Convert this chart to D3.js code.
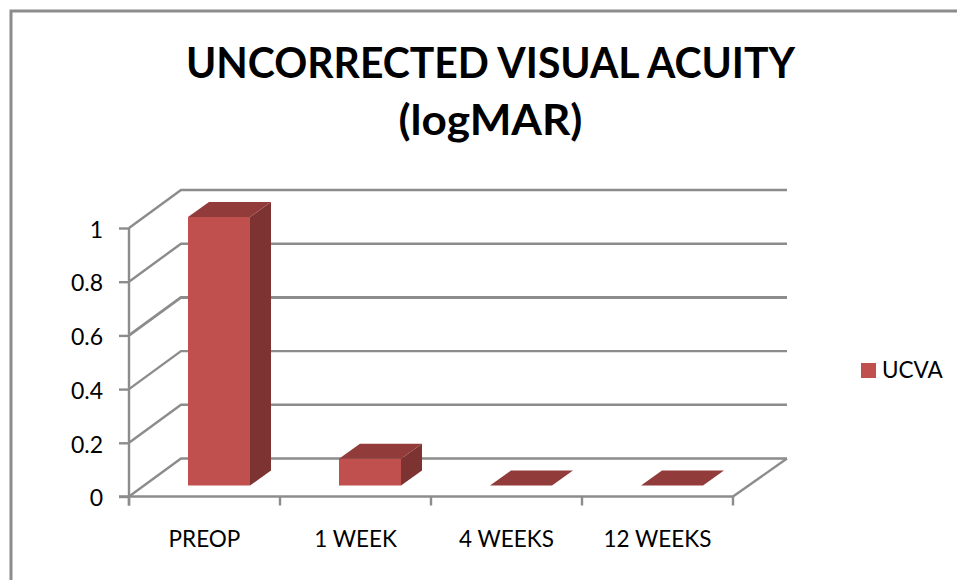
<!DOCTYPE html>
<html><head><meta charset="utf-8">
<script src="https://cdn.jsdelivr.net/npm/d3@7"></script>
<style>html,body{margin:0;padding:0;background:#fff}svg{display:block}text{font-family:Lato,"Open Sans",sans-serif;fill:#000}</style>
</head><body><div id="chart"></div>
<script>
const categories = ["PREOP","1 WEEK","4 WEEKS","12 WEEKS"];
const values = [1,0.1,0,0];
const yTicks = [0,0.2,0.4,0.6,0.8,1];
const titleLines = ["UNCORRECTED VISUAL ACUITY","(logMAR)"];
const titleWidths = [609,184];
const seriesName = "UCVA";

const W=957,H=580,grey="#8c8c8c";
const wallDx=52,wallDy=-38,barDx=21,barDy=-15,barFrontOffset=-11;
const svg=d3.select("#chart").append("svg").attr("width",W).attr("height",H);
svg.append("path").attr("d","M11,580V11H957").attr("fill","none").attr("stroke",grey).attr("stroke-width",3);

const x=d3.scaleBand().domain(categories).range([129,733]);
const y=d3.scaleLinear().domain([0,1]).range([496.5,228]);
const g=svg.append("g");

// wall gridlines and floor edges
yTicks.forEach(t=>{
  const p=d3.path();
  p.moveTo(x.range()[0],y(t));p.lineTo(x.range()[0]+wallDx,y(t)+wallDy);p.lineTo(x.range()[1]+wallDx+2,y(t)+wallDy);
  g.append("path").attr("d",p).attr("fill","none").attr("stroke",grey).attr("stroke-width",t===0.6?3:2.4);
});
g.append("line").attr("x1",x.range()[1]).attr("y1",y(0)).attr("x2",x.range()[1]+wallDx+2).attr("y2",y(0)+wallDy).attr("stroke",grey).attr("stroke-width",2.4);

// axes
const yAxis=d3.axisLeft(y).tickValues(yTicks).tickSize(10).tickFormat(d3.format("~g"));
const ya=svg.append("g").attr("transform",`translate(${x.range()[0]},0)`).call(yAxis);
ya.selectAll("path,line").attr("stroke",grey).attr("stroke-width",2.4);
ya.select(".domain").attr("d",`M0,${y(1)}V${y(0)+9}`);
ya.selectAll("text").attr("x",-26).attr("y",1).attr("dy","0.36em").style("font-size","23px").attr("text-anchor","end");

const edges=categories.map(c=>x(c)).concat(x.range()[1]);
const xa=svg.append("g");
xa.append("line").attr("x1",x.range()[0]-10).attr("x2",x.range()[1]).attr("y1",y(0)).attr("y2",y(0)).attr("stroke",grey).attr("stroke-width",2.4);
xa.selectAll("line.t").data(edges).join("line").attr("class","t").attr("x1",d=>d).attr("x2",d=>d).attr("y1",y(0)).attr("y2",y(0)+9).attr("stroke",grey).attr("stroke-width",2.4);
xa.selectAll("text").data(categories).join("text").attr("x",d=>x(d)+x.bandwidth()/2).attr("y",547).attr("text-anchor","middle").style("font-size","22.5px").text(d=>d);

// bars
const bw=62;
const bars=svg.append("g").selectAll("g").data(categories).join("g");
bars.each(function(c,i){
  const s=d3.select(this),x0=x(c)+(x.bandwidth()-bw)/2+14.5,x1=x0+bw;
  const yb=y(0)+barFrontOffset,yt=yb-(y(0)-y(values[i]));
  if(values[i]>0){
    s.append("path").attr("d",`M${x1},${yb}V${yt}L${x1+barDx},${yt+barDy}V${yb+barDy}Z`).attr("fill","#7d3331");
    s.append("rect").attr("x",x0).attr("y",yt).attr("width",bw).attr("height",yb-yt).attr("fill","#c0504d");
  }
  s.append("path").attr("d",`M${x0},${yt}L${x0+barDx},${yt+barDy}H${x1+barDx}L${x1},${yt}Z`).attr("fill","#913c3a");
});

// title
svg.append("g").selectAll("text").data(titleLines).join("text")
 .attr("x",490.5).attr("y",(d,i)=>78+i*57).attr("text-anchor","middle")
 .attr("textLength",(d,i)=>titleWidths[i]).attr("lengthAdjust","spacingAndGlyphs")
 .style("font-size","42px").style("font-weight","700").text(d=>d);

// legend
svg.append("rect").attr("x",861).attr("y",363).attr("width",15).attr("height",15).attr("fill","#c0504d");
svg.append("text").attr("x",882).attr("y",378).style("font-size","22.5px").text(seriesName);
</script></body></html>
